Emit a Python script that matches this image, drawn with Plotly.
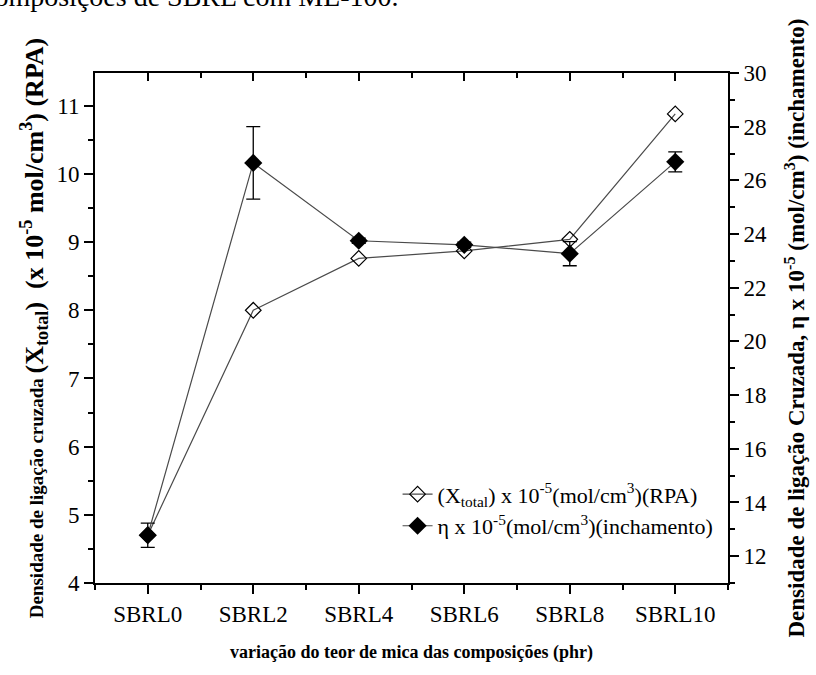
import plotly.graph_objects as go

# ---- data ----
categories = ["SBRL0", "SBRL2", "SBRL4", "SBRL6", "SBRL8", "SBRL10"]
x_rpa = [4.70, 8.00, 8.76, 8.87, 9.04, 10.88]           # (Xtotal) x 1e-5 mol/cm3 (RPA)  -> left axis
eta_swell = [12.78, 26.65, 23.75, 23.60, 23.27, 26.69]  # eta x 1e-5 mol/cm3 (inchamento) -> right axis
eta_err = [0.45, 1.35, 0.10, 0.10, 0.45, 0.37]

xpos = list(range(len(categories)))
minor_x = [v - 0.5 for v in xpos] + [xpos[-1] + 0.5]

FONT = "Liberation Serif, Times New Roman, serif"
LINE_COL = "#4a4a4a"

fig = go.Figure()

fig.add_trace(go.Scatter(
    x=xpos, y=x_rpa, mode="lines+markers",
    name="(X<sub>total</sub>) x 10<sup>-5</sup>(mol/cm<sup>3</sup>)(RPA)",
    line=dict(color=LINE_COL, width=1.2),
    marker=dict(symbol="diamond-open", size=12, color="black", line=dict(width=1.2, color="#333")),
    xaxis="x", yaxis="y",
))

fig.add_trace(go.Scatter(
    x=xpos, y=eta_swell, mode="lines+markers",
    name="η x 10<sup>-5</sup>(mol/cm<sup>3</sup>)(inchamento)",
    line=dict(color=LINE_COL, width=1.2),
    marker=dict(symbol="diamond", size=14, color="black"),
    error_y=dict(type="data", array=eta_err, visible=True, color="black", thickness=1.3, width=7),
    xaxis="x", yaxis="y2",
))

# helper trace so the top mirror axis is rendered
fig.add_trace(go.Scatter(x=[None], y=[None], xaxis="x2", yaxis="y",
                         showlegend=False, hoverinfo="skip"))

tick_font = dict(family=FONT, size=23, color="black")

left_title = ("<b>Densidade de ligação cruzada "
              "<span style='font-size:26px'>(X<sub>total</sub>)  (x 10<sup>-5</sup> mol/cm<sup>3</sup>) (RPA)</span></b>")
right_title = "<b>Densidade de ligação Cruzada, η x 10<sup>-5</sup> (mol/cm<sup>3</sup>) (inchamento)</b>"

fig.update_layout(
    width=816, height=675,
    margin=dict(l=95, r=88, t=73, b=92),
    paper_bgcolor="white", plot_bgcolor="white",
    font=dict(family=FONT, color="black"),
    showlegend=True,
    legend=dict(x=0.478, y=0.215, xanchor="left", yanchor="top",
                font=dict(family=FONT, size=22, color="black"),
                bgcolor="rgba(0,0,0,0)", borderwidth=0, tracegroupgap=0),
    xaxis=dict(
        range=[-0.5, 5.5], tickmode="array", tickvals=xpos, ticktext=categories,
        showline=True, linecolor="black", linewidth=2, mirror=False,
        ticks="outside", ticklen=9, tickwidth=1.5, tickcolor="black",
        minor=dict(tickmode="array", tickvals=minor_x,
                   ticks="outside", ticklen=5, tickwidth=1.5, tickcolor="black"),
        showgrid=False, zeroline=False, tickfont=tick_font,
        title=dict(text="<b>variação do teor de mica das composições (phr)</b>",
                   font=dict(family=FONT, size=18, color="black"), standoff=20),
    ),
    xaxis2=dict(
        overlaying="x", side="top", anchor="y", range=[-0.5, 5.5],
        tickmode="array", tickvals=xpos, showticklabels=False,
        showline=True, linecolor="black", linewidth=2,
        ticks="inside", ticklen=8, tickwidth=1.5, tickcolor="black",
        minor=dict(tickmode="array", tickvals=minor_x,
                   ticks="inside", ticklen=5, tickwidth=1.5, tickcolor="black"),
        showgrid=False, zeroline=False,
    ),
    yaxis=dict(
        range=[4, 11.48], tickmode="linear", tick0=4, dtick=1,
        showline=True, linecolor="black", linewidth=2,
        ticks="outside", ticklen=9, tickwidth=1.5, tickcolor="black",
        minor=dict(tickmode="linear", tick0=4, dtick=0.5, ticks="outside", ticklen=5,
                   tickwidth=1.5, tickcolor="black"),
        showgrid=False, zeroline=False, tickfont=tick_font,
        title=dict(text=left_title, font=dict(family=FONT, size=19, color="black"), standoff=8),
    ),
    yaxis2=dict(
        overlaying="y", side="right", anchor="x", range=[11, 30],
        tickmode="linear", tick0=12, dtick=2,
        showline=True, linecolor="black", linewidth=2,
        ticks="outside", ticklen=9, tickwidth=1.5, tickcolor="black",
        minor=dict(tickmode="linear", tick0=11, dtick=1, ticks="outside", ticklen=5,
                   tickwidth=1.5, tickcolor="black"),
        showgrid=False, zeroline=False, tickfont=tick_font,
        title=dict(text=right_title, font=dict(family=FONT, size=23, color="black"), standoff=22),
    ),
    annotations=[dict(
        text="composições de SBRL com ML-100.", xref="paper", yref="paper",
        x=0.484, y=1.1157, xanchor="right", yanchor="bottom", showarrow=False,
        font=dict(family=FONT, size=28, color="black"),
    )],
)

fig.write_html("out.html")
